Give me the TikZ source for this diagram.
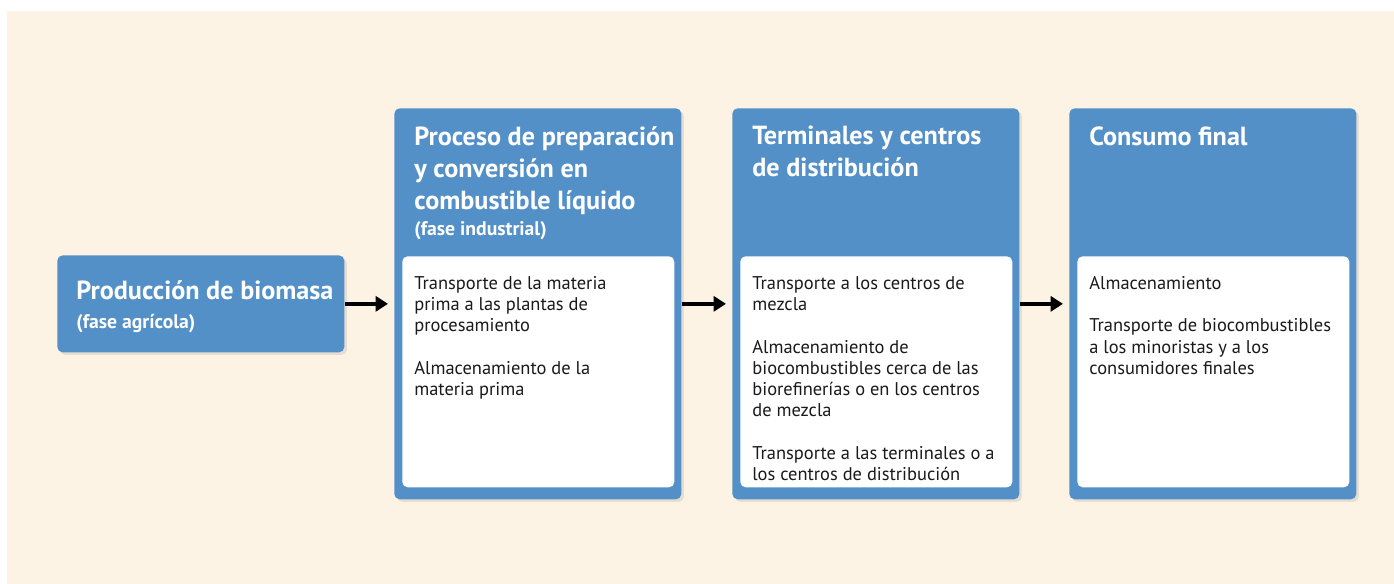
\documentclass[tikz,border=0pt]{standalone}
\usepackage{fontspec}
\setmainfont{PT Sans}
\usetikzlibrary{positioning,arrows.meta,shadows}
\definecolor{crema}{HTML}{FDF3E5}
\definecolor{azul}{HTML}{5390C8}
\definecolor{texto}{HTML}{1A1A1A}
\newcommand{\fase}[1]{{\fontsize{11.2}{13}\selectfont\bfseries #1}}
\tikzset{
  etapa/.style={fill=azul, draw=none, rounded corners=3pt, anchor=north west,
    inner sep=0pt, minimum width=5.74cm, minimum height=7.82cm,
    drop shadow={opacity=0.18, shadow xshift=1.5pt, shadow yshift=-1.5pt}},
  caja/.style={fill=white, draw=none, rounded corners=3pt, inner sep=0pt,
    minimum width=5.44cm, minimum height=4.62cm},
  titulo/.style={text=white, font=\fontsize{14.9}{18.2}\selectfont\bfseries,
    align=left, inner sep=0pt},
  cuerpo/.style={text=texto, font=\fontsize{10.5}{12.1}\selectfont,
    align=left, inner sep=0pt},
  flecha/.style={line width=2.5pt, -{Triangle[length=7pt,width=8.5pt]},
    shorten >=0.12cm}
}

\begin{document}
\begin{tikzpicture}[x=0.02cm, y=-0.02cm]
    \useasboundingbox (0,0) rectangle (1394,584);
    \fill[crema] (7,11) rectangle (1394,584);

    % etapas
    \node[etapa, minimum height=1.94cm] (prod) at (57,255) {};
    \node[etapa] (proc) at (394,108) {};
    \node[etapa] (term) at (732,108) {};
    \node[etapa] (cons) at (1069,108) {};

    % titulos
    \node[titulo, anchor=west] (prodT) at ([xshift=0.38cm, yshift=-0.06cm]prod.west)
      {Producción de biomasa\\[-2pt]\fase{(fase agrícola)}};
    \node[titulo, below right=0.36cm and 0.4cm of proc.north west] (procT)
      {Proceso de preparación\\y conversión en\\combustible líquido\\[-3pt]\fase{(fase industrial)}};
    \node[titulo, below right=0.36cm and 0.4cm of term.north west] (termT)
      {Terminales y centros\\de distribución};
    \node[titulo, below right=0.36cm and 0.4cm of cons.north west] (consT)
      {Consumo final};

    % cajas blancas
    \node[caja, below right=2.96cm and 0.16cm of proc.north west] (procC) {};
    \node[caja, below right=2.96cm and 0.16cm of term.north west] (termC) {};
    \node[caja, below right=2.96cm and 0.16cm of cons.north west] (consC) {};

    \node[cuerpo, below right=0.4cm and 0.24cm of procC.north west] (procL)
      {Transporte de la materia\\prima a las plantas de\\procesamiento\\[\baselineskip]Almacenamiento de la\\materia prima};
    \node[cuerpo, below right=0.4cm and 0.24cm of termC.north west] (termL)
      {Transporte a los centros de\\mezcla\\[\baselineskip]Almacenamiento de\\biocombustibles cerca de las\\biorefinerías o en los centros\\de mezcla\\[\baselineskip]Transporte a las terminales o a\\los centros de distribución};
    \node[cuerpo, below right=0.4cm and 0.24cm of consC.north west] (consL)
      {Almacenamiento\\[\baselineskip]Transporte de biocombustibles\\a los minoristas y a los\\consumidores finales};

    % flechas
    \draw[flecha] (prod.east) -- (prod.east -| proc.west);
    \draw[flecha] (proc.east |- prod.east) -- (prod.east -| term.west);
    \draw[flecha] (term.east |- prod.east) -- (prod.east -| cons.west);
\end{tikzpicture}
\end{document}
